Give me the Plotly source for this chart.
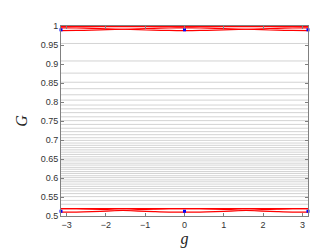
import numpy as np
import plotly.graph_objects as go

# sample points in g, -pi..pi in steps of pi/8
g_pts = [-np.pi + k * np.pi / 8 for k in range(17)]

# gray bands (nearly flat)
gray_levels = [0.954, 0.908, 0.876, 0.852, 0.835, 0.819, 0.805, 0.792, 0.782,
               0.772, 0.761, 0.751, 0.741, 0.731, 0.722, 0.714, 0.706, 0.699,
               0.692, 0.686, 0.680, 0.674, 0.668, 0.662, 0.656, 0.650, 0.645,
               0.639, 0.634, 0.628, 0.623, 0.617, 0.612, 0.606, 0.601, 0.595,
               0.590, 0.584, 0.578, 0.572, 0.566, 0.559, 0.551, 0.541, 0.531]

# red bands near the top
top_flat = 0.9986
top_a = [0.9880, 0.9883, 0.9890, 0.9902, 0.9915, 0.9928, 0.9940, 0.9947, 0.9950,
         0.9947, 0.9940, 0.9928, 0.9915, 0.9902, 0.9890, 0.9883, 0.9880]
top_b = [0.9950, 0.9947, 0.9940, 0.9928, 0.9915, 0.9902, 0.9890, 0.9883, 0.9880,
         0.9883, 0.9890, 0.9902, 0.9915, 0.9928, 0.9940, 0.9947, 0.9950]

# red bands near the bottom
bot_flat = 0.5195
bot_a = [0.5100, 0.5104, 0.5115, 0.5130, 0.5148, 0.5166, 0.5181, 0.5192, 0.5195,
         0.5192, 0.5181, 0.5166, 0.5148, 0.5130, 0.5115, 0.5104, 0.5100]
bot_b = [0.5195, 0.5192, 0.5181, 0.5166, 0.5148, 0.5130, 0.5115, 0.5104, 0.5100,
         0.5104, 0.5115, 0.5130, 0.5148, 0.5166, 0.5181, 0.5192, 0.5195]

# blue markers
dot_g = [-np.pi, 0.0, np.pi]
dot_top = [0.990, 0.990, 0.990]
dot_bot = [0.5125, 0.5125, 0.5125]

x_ticks = [-3, -2, -1, 0, 1, 2, 3]
y_ticks = [0.5, 0.55, 0.6, 0.65, 0.7, 0.75, 0.8, 0.85, 0.9, 0.95, 1]
y_tick_text = ["0.5", "0.55", "0.6", "0.65", "0.7", "0.75", "0.8", "0.85", "0.9", "0.95", "1"]

fig = go.Figure()

for lvl in gray_levels:
    fig.add_trace(go.Scatter(
        x=[g_pts[0], g_pts[-1]], y=[lvl, lvl], mode="lines",
        line=dict(color="rgba(180,180,180,0.65)", width=0.9),
        hoverinfo="skip", showlegend=False,
    ))

for ys in (top_a, top_b, bot_a, bot_b):
    fig.add_trace(go.Scatter(
        x=g_pts, y=ys, mode="lines", line=dict(color="#ff0000", width=1.2, shape="spline"),
        showlegend=False,
    ))
for lvl in (top_flat, bot_flat):
    fig.add_trace(go.Scatter(
        x=[g_pts[0], g_pts[-1]], y=[lvl, lvl], mode="lines",
        line=dict(color="#ff0000", width=1.2), showlegend=False,
    ))

for ys in (dot_top, dot_bot):
    fig.add_trace(go.Scatter(
        x=dot_g, y=ys, mode="markers",
        marker=dict(color="#0000ff", size=3, symbol="square"),
        showlegend=False, cliponaxis=False,
    ))

axis_common = dict(
    showgrid=False, zeroline=False, showline=True, linecolor="#808080", linewidth=1,
    mirror="ticks", ticks="inside", ticklen=3, tickcolor="#808080",
    tickfont=dict(family="Liberation Sans, Arial, sans-serif", size=9, color="#333333"),
)

fig.update_layout(
    width=332, height=249,
    margin=dict(l=43, r=32, t=18, b=35),
    paper_bgcolor="white", plot_bgcolor="white",
    xaxis=dict(range=[-np.pi, np.pi], tickvals=x_ticks, **axis_common,
               title=dict(text="<i>g</i>", standoff=4,
                          font=dict(family="Liberation Serif, Times New Roman, serif", size=16, color="#222222"))),
    yaxis=dict(range=[0.5, 1.0], tickvals=y_ticks, ticktext=y_tick_text, **axis_common,
               title=dict(text="<i>G</i>", standoff=9,
                          font=dict(family="Liberation Serif, Times New Roman, serif", size=16, color="#222222"))),
)

fig.write_html("out.html")
